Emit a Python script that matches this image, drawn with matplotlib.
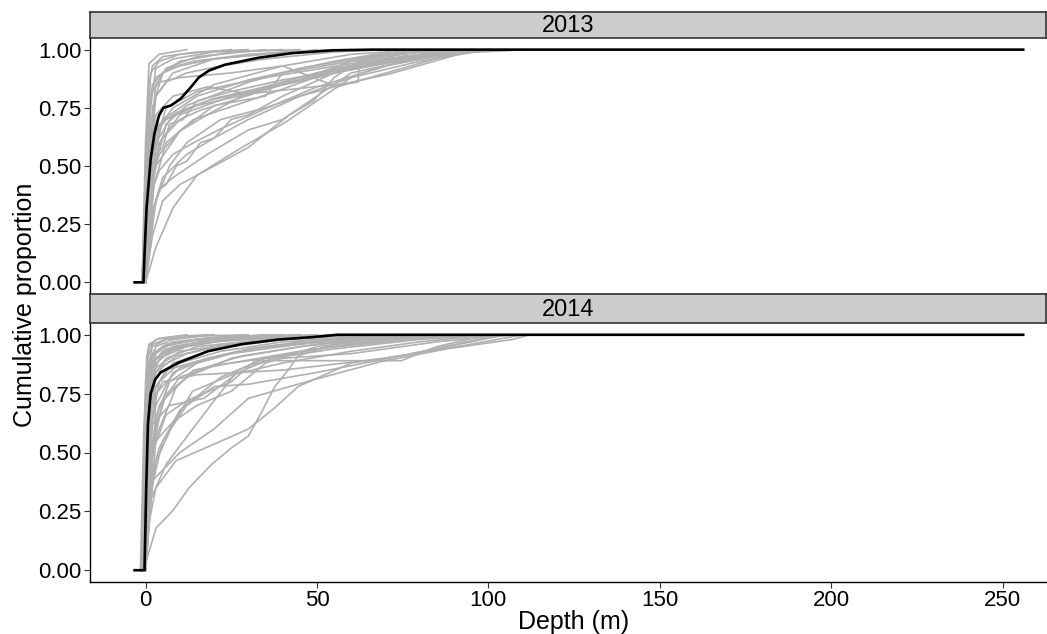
import matplotlib.pyplot as plt
import numpy as np

plt.rcParams['font.family'] = ['Liberation Sans', 'DejaVu Sans']

years = ['2013', '2014']

# mean curves (depth m, cumulative proportion)
black_2013 = [(-3.2, 0), (-0.6, 0), (-0.3, 0.12), (0.3, 0.32), (1.5, 0.53), (2.6, 0.64),
              (3.9, 0.716), (5.2, 0.75), (7.4, 0.76), (10.3, 0.79), (13.3, 0.84),
              (15.5, 0.88), (18.5, 0.91), (23.1, 0.935), (32.9, 0.965), (42.8, 0.985),
              (54.6, 0.997), (66, 1.0), (256, 1.0)]
black_2014 = [(-3.2, 0), (-0.3, 0), (0.2, 0.35), (0.7, 0.62), (1.5, 0.75), (2.8, 0.81),
              (4.4, 0.84), (9.4, 0.88), (18.2, 0.93), (28, 0.96), (38.9, 0.98),
              (48.7, 0.99), (56, 1.0), (256, 1.0)]

# individual curves 2013
grey_2013 = [
    [(-1, 0), (0, 0.5), (1, 0.85), (2, 0.93), (5, 0.97), (15, 0.99), (30, 1.0)],
    [(-1, 0), (0.5, 0.6), (1.5, 0.9), (4, 0.95), (10, 0.98), (25, 1.0)],
    [(-0.5, 0), (1, 0.7), (3, 0.92), (8, 0.96), (20, 0.99), (40, 1.0)],
    [(0, 0), (1, 0.55), (3, 0.85), (6, 0.92), (15, 0.97), (35, 1.0)],
    [(0, 0), (2, 0.75), (5, 0.9), (10, 0.95), (25, 0.99), (45, 1.0)],
    [(-0.5, 0), (1, 0.45), (3, 0.8), (8, 0.9), (20, 0.96), (50, 1.0)],
    [(-1, 0), (0, 0.6), (1, 0.94), (4, 0.98), (12, 1.0)],
    [(0, 0), (1.5, 0.8), (3, 0.88), (7, 0.92), (14, 0.95), (30, 0.98), (55, 1.0)],
    [(0, 0), (1, 0.4), (3, 0.65), (8, 0.75), (20, 0.85), (40, 0.93), (60, 0.98), (80, 1.0)],
    [(0, 0), (2, 0.5), (5, 0.7), (15, 0.8), (30, 0.87), (55, 0.95), (75, 1.0)],
    [(0, 0), (2, 0.55), (6, 0.75), (15, 0.82), (35, 0.88), (60, 0.94), (90, 1.0)],
    [(0, 0), (1, 0.3), (4, 0.6), (10, 0.72), (25, 0.8), (50, 0.88), (70, 0.95), (100, 1.0)],
    [(0, 0), (3, 0.6), (8, 0.72), (18, 0.78), (35, 0.84), (55, 0.9), (85, 0.98), (105, 1.0)],
    [(0, 0), (2, 0.45), (6, 0.68), (12, 0.76), (30, 0.86), (45, 0.92), (65, 0.97), (90, 1.0)],
    [(0, 0), (1, 0.35), (3, 0.5), (10, 0.65), (20, 0.76), (35, 0.8), (40, 0.9), (60, 0.95), (80, 1.0)],
    [(0, 0), (1, 0.5), (3, 0.72), (8, 0.8), (18, 0.84), (30, 0.81), (62, 0.86), (62.5, 0.966), (75, 0.99), (88, 1.0)],
    [(0, 0), (2, 0.62), (6, 0.7), (15, 0.76), (30, 0.81), (45, 0.87), (60, 0.95), (80, 1.0)],
    [(0, 0), (1, 0.8), (4, 0.86), (10, 0.88), (25, 0.9), (40, 0.93), (56, 0.84), (88, 0.975), (100, 1.0)],
    [(0, 0), (3, 0.15), (8, 0.32), (15, 0.46), (27, 0.57), (41, 0.69), (51, 0.79), (61, 0.89), (75, 0.95), (95, 0.99), (105, 1.0)],
    [(0, 0), (2, 0.2), (5, 0.35), (10, 0.42), (20, 0.5), (30, 0.58), (42, 0.72), (49, 0.78), (55, 0.88), (62, 0.95), (80, 0.99), (100, 1.0)],
    [(0, 0), (1, 0.25), (4, 0.4), (8, 0.45), (18, 0.55), (30, 0.655), (40, 0.7), (50, 0.8), (60, 0.9), (85, 0.98), (100, 1.0)],
    [(0, 0), (2, 0.3), (5, 0.45), (12, 0.55), (20, 0.62), (30, 0.7), (45, 0.8), (60, 0.88), (80, 0.95), (100, 1.0)],
    [(0, 0), (1, 0.4), (4, 0.55), (10, 0.65), (18, 0.72), (28, 0.8), (40, 0.86), (55, 0.92), (75, 0.97), (95, 1.0)],
    [(0, 0), (3, 0.35), (7, 0.5), (12, 0.6), (22, 0.7), (35, 0.75), (45, 0.8), (60, 0.86), (71, 0.895), (88, 0.966), (93, 0.987), (105, 0.995), (110, 1.0)],
    [(0, 0), (1.5, 0.55), (4, 0.68), (9, 0.73), (20, 0.79), (32, 0.83), (50, 0.9), (70, 0.96), (92, 1.0)],
    [(0, 0), (2.5, 0.42), (6, 0.6), (14, 0.7), (26, 0.76), (38, 0.82), (55, 0.91), (78, 0.97), (98, 1.0)],
    [(0, 0), (1, 0.3), (2, 0.5), (5, 0.62), (10, 0.7), (16, 0.74), (25, 0.78), (40, 0.85), (60, 0.93), (85, 0.99), (100, 1.0)],
    [(0, 0), (2, 0.4), (4, 0.48), (8, 0.55), (14, 0.6), (22, 0.66), (34, 0.74), (50, 0.84), (70, 0.93), (95, 1.0)],
    [(-0.5, 0), (1, 0.62), (3, 0.8), (6, 0.86), (12, 0.9), (22, 0.93), (35, 0.96), (55, 0.99), (70, 1.0)],
    [(0, 0), (1, 0.7), (2, 0.85), (5, 0.9), (10, 0.93), (20, 0.96), (40, 0.99), (60, 1.0)],
    [(0, 0), (2, 0.28), (4, 0.4), (6, 0.42), (9, 0.5), (12, 0.52), (16, 0.6), (20, 0.62), (25, 0.7), (30, 0.72), (40, 0.8), (55, 0.9), (75, 0.97), (95, 1.0)],
    [(0, 0), (1.5, 0.35), (3, 0.55), (5, 0.58), (7, 0.68), (11, 0.7), (15, 0.78), (25, 0.82), (40, 0.87), (60, 0.92), (80, 0.97), (100, 1.0)],
]

# individual curves 2014
grey_2014 = [
    [(-1.5, 0), (-0.5, 0.6), (0.5, 0.9), (2, 0.96), (6, 0.98), (15, 0.995), (30, 1.0)],
    [(-1, 0), (0, 0.5), (1, 0.85), (3, 0.93), (8, 0.97), (20, 0.99), (40, 1.0)],
    [(-1, 0), (0.5, 0.7), (2, 0.88), (5, 0.93), (12, 0.96), (25, 0.985), (45, 1.0)],
    [(-0.5, 0), (1, 0.75), (3, 0.9), (8, 0.95), (20, 0.98), (50, 1.0)],
    [(0, 0), (0.8, 0.5), (2, 0.78), (5, 0.87), (12, 0.92), (25, 0.96), (45, 0.99), (60, 1.0)],
    [(-1, 0), (0, 0.35), (1, 0.7), (3, 0.86), (10, 0.93), (30, 0.97), (55, 1.0)],
    [(0, 0), (1.5, 0.6), (4, 0.8), (10, 0.88), (22, 0.93), (40, 0.97), (70, 1.0)],
    [(-0.5, 0), (0.5, 0.45), (2, 0.82), (6, 0.9), (15, 0.95), (35, 0.98), (60, 1.0)],
    [(0, 0), (1, 0.3), (3, 0.65), (7, 0.8), (15, 0.88), (30, 0.94), (50, 0.98), (75, 1.0)],
    [(-1, 0), (0, 0.8), (1, 0.95), (3, 0.98), (10, 0.995), (20, 1.0)],
    [(-0.5, 0), (0.5, 0.85), (2, 0.95), (6, 0.98), (18, 1.0)],
    [(0, 0), (1, 0.6), (3, 0.84), (9, 0.91), (20, 0.95), (40, 0.98), (65, 1.0)],
    [(0, 0), (2, 0.5), (5, 0.72), (12, 0.82), (25, 0.9), (45, 0.95), (70, 0.99), (85, 1.0)],
    [(-1, 0), (0.5, 0.55), (2, 0.75), (6, 0.85), (18, 0.9), (35, 0.95), (55, 0.98), (80, 1.0)],
    [(0, 0), (1, 0.4), (4, 0.7), (10, 0.82), (20, 0.87), (35, 0.9), (55, 0.95), (75, 0.985), (95, 1.0)],
    [(-0.5, 0), (1, 0.65), (2.5, 0.87), (7, 0.93), (16, 0.97), (30, 0.99), (45, 1.0)],
    [(0, 0), (0.5, 0.2), (2, 0.55), (6, 0.75), (15, 0.85), (28, 0.91), (50, 0.96), (80, 1.0)],
    [(-1, 0), (0, 0.7), (1.5, 0.9), (5, 0.95), (14, 0.975), (28, 0.99), (40, 1.0)],
    [(0, 0), (3, 0.7), (8, 0.84), (18, 0.9), (30, 0.94), (60, 0.98), (90, 1.0)],
    [(-0.5, 0), (1, 0.5), (3, 0.75), (10, 0.86), (25, 0.92), (50, 0.97), (100, 1.0)],
    [(0, 0), (1.5, 0.8), (4, 0.9), (12, 0.95), (25, 0.98), (50, 1.0)],
    [(-1, 0), (0, 0.4), (0.8, 0.75), (2, 0.88), (6, 0.94), (20, 0.98), (35, 1.0)],
    [(-1, 0), (0.3, 0.9), (1, 0.96), (4, 0.985), (12, 1.0)],
    [(-0.5, 0), (0.8, 0.8), (2, 0.92), (6, 0.96), (15, 0.98), (35, 1.0)],
    [(-1, 0), (0.2, 0.6), (1, 0.88), (3, 0.95), (8, 0.98), (20, 1.0)],
    [(-0.5, 0), (0.5, 0.75), (1.5, 0.9), (4, 0.94), (10, 0.97), (25, 0.99), (40, 1.0)],
    [(0, 0), (0.8, 0.65), (2, 0.83), (4, 0.9), (10, 0.95), (25, 0.98), (45, 1.0)],
    [(-1, 0), (0, 0.55), (1, 0.8), (3, 0.9), (8, 0.94), (20, 0.97), (40, 0.99), (55, 1.0)],
    [(0, 0), (1, 0.78), (3, 0.92), (7, 0.96), (15, 0.98), (30, 1.0)],
    [(-0.5, 0), (0.5, 0.3), (1.5, 0.6), (3, 0.78), (8, 0.88), (20, 0.94), (40, 0.98), (60, 1.0)],
    [(0, 0), (0.2, 0.04), (3.1, 0.18), (7.8, 0.25), (12.7, 0.35), (19.3, 0.45), (25.1, 0.52), (30, 0.57), (33.8, 0.67), (37.7, 0.78), (41.6, 0.85), (44.5, 0.91), (55, 0.96), (70, 0.99), (85, 1.0)],
    [(0, 0), (1, 0.2), (3, 0.35), (8.9, 0.465), (22.3, 0.55), (30, 0.6), (37.7, 0.69), (44.5, 0.78), (60, 0.88), (76, 0.915), (95, 0.97), (105, 1.0)],
    [(0, 0), (1.2, 0.29), (6, 0.45), (12.7, 0.58), (20, 0.72), (27, 0.85), (35, 0.9), (50, 0.94), (70, 0.97), (90, 1.0)],
    [(0, 0), (1, 0.25), (3.1, 0.465), (8, 0.62), (13.7, 0.76), (25.1, 0.83), (40, 0.88), (60, 0.93), (80, 0.97), (100, 1.0)],
    [(0, 0), (2, 0.38), (10, 0.5), (20, 0.6), (30, 0.73), (49.3, 0.81), (68.4, 0.885), (87.8, 0.94), (107, 0.98), (112, 1.0)],
    [(0, 0), (1, 0.3), (5, 0.55), (12, 0.7), (20, 0.78), (30, 0.79), (50, 0.84), (76, 0.915), (100, 0.99), (108, 1.0)],
    [(0, 0), (2, 0.5), (6, 0.66), (12, 0.72), (25, 0.8), (32, 0.89), (74.6, 0.89), (85, 0.95), (100, 1.0)],
    [(0, 0), (1, 0.45), (4, 0.6), (9, 0.78), (14, 0.85), (25, 0.88), (45, 0.93), (65, 0.97), (90, 1.0)],
    [(0, 0), (3, 0.55), (8, 0.63), (15, 0.7), (25, 0.76), (35, 0.88), (50, 0.95), (75, 0.99), (95, 1.0)],
    [(0, 0), (2, 0.62), (7, 0.7), (17, 0.73), (27, 0.84), (37, 0.9), (55, 0.94), (80, 0.98), (100, 1.0)],
    [(0, 0), (1, 0.35), (4, 0.52), (10, 0.68), (22, 0.82), (30, 0.87), (40, 0.9), (60, 0.92), (85, 0.97), (105, 1.0)],
    [(0, 0), (1.5, 0.7), (5, 0.8), (15, 0.83), (40, 0.85), (70, 0.9), (95, 0.96), (110, 1.0)],
]

yticks = [0, 0.25, 0.5, 0.75, 1.0]
ytick_labels = ['0.00', '0.25', '0.50', '0.75', '1.00']
xticks = [0, 50, 100, 150, 200, 250]

W, H = 1047, 634
fig = plt.figure(figsize=(W / 100, H / 100), dpi=100)

panels = [
    # (axes: left, top, bottom), (strip: left, top, bottom) in pixels
    ((90, 38, 294), (90, 12, 38)),
    ((90, 323, 582), (90, 294, 323)),
]
curves = [grey_2013, grey_2014]
means = [black_2013, black_2014]

axes = []
for i, ((l, t, b), (sl, st, sb)) in enumerate(panels):
    ax = fig.add_axes([l / W, 1 - b / H, 1 - l / W + 0.01, (b - t) / H])
    for c in curves[i]:
        xs, ys = zip(*c)
        ax.plot(xs, ys, color='#b0b0b0', lw=1.2, zorder=1)
    xs, ys = zip(*means[i])
    ax.plot(xs, ys, color='black', lw=1.9, zorder=3)
    ax.set_xlim(-16.2, 266)
    ax.set_ylim(-0.05, 1.05)
    ax.set_yticks(yticks)
    ax.set_yticklabels(ytick_labels)
    ax.set_xticks(xticks)
    ax.spines['top'].set_visible(False)
    ax.spines['right'].set_visible(False)
    for s in ['left', 'bottom']:
        ax.spines[s].set_linewidth(1.0)
    ax.tick_params(direction='out', length=4, width=0.8, color='#333333',
                   labelsize=16, labelcolor='black', pad=2)
    if i == 0:
        ax.tick_params(axis='x', labelbottom=False, length=0)
    axes.append(ax)

    sax = fig.add_axes([sl / W, 1 - sb / H, 1 - sl / W - 0.0005, (sb - st) / H])
    sax.set_facecolor('#cccccc')
    sax.set_xticks([])
    sax.set_yticks([])
    for s in sax.spines.values():
        s.set_linewidth(1.2)
        s.set_color('#333333')
    sax.text(0.5, 0.45, years[i], ha='center', va='center', fontsize=17,
             transform=sax.transAxes)

axes[1].set_xlabel('Depth (m)', fontsize=18, labelpad=-1)
fig.text(25 / W, 1 - 305 / H, 'Cumulative proportion', rotation=90,
         ha='center', va='center', fontsize=18)

fig.savefig('out.png', dpi=100)
